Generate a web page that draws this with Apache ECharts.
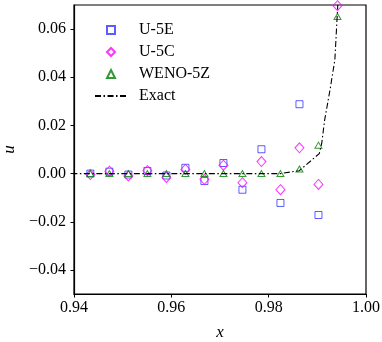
<!DOCTYPE html>
<html>
<head>
<meta charset="utf-8">
<script src="https://cdn.jsdelivr.net/npm/echarts@6/dist/echarts.min.js"></script>
<style>
  html, body { margin: 0; padding: 0; background: #fff; }
  #chart { width: 382px; height: 342px; }
</style>
</head>
<body>
<div id="chart"></div>
<script>
// cell centres (x) where the schemes are sampled
var xCells = [0.943359, 0.947266, 0.951172, 0.955078, 0.958984, 0.962891, 0.966797,
              0.970703, 0.974609, 0.978516, 0.982422, 0.986328, 0.990234, 0.994141];
var u5e  = [0.0000, 0.0008, -0.0004, 0.0011, -0.0008, 0.0024, -0.0031,
            0.0044, -0.0067, 0.0101, -0.0122, 0.0288, -0.0172, null];
var u5c  = [-0.0004, 0.0010, -0.0010, 0.0012, -0.0016, 0.0017, -0.0024,
            0.0035, -0.0038, 0.0050, -0.0067, 0.0107, -0.0045, 0.0697];
var weno = [0.0000, 0.0000, 0.0000, 0.0000, 0.0000, 0.0000, 0.0000,
            0.0000, 0.0000, 0.0000, 0.0000, 0.0019, 0.0118, 0.0652];

// exact solution
var xExact = [0.939453, 0.9824, 0.9863, 0.9904, 0.9909, 0.9915, 0.9926, 0.9936, 0.9942];
var uExact = [0.0000, 0.0000, 0.0012, 0.0083, 0.0125, 0.0222, 0.0347, 0.0472, 0.0700];

var xTicks = [0.94, 0.96, 0.98, 1.00];
var yTicks = [-0.04, -0.02, 0.00, 0.02, 0.04, 0.06];

var FONT = 'Liberation Serif';

function pairs(xs, ys) {
  var out = [];
  for (var i = 0; i < xs.length; i++) {
    if (ys[i] !== null) out.push([xs[i], ys[i]]);
  }
  return out;
}

function fmt(v) {
  var s = Math.abs(v).toFixed(2);
  return v < -1e-9 ? '\u2212' + s : s;
}

function hollow(col) {
  return { color: 'rgba(0,0,0,0)', borderColor: col, borderWidth: 1 };
}

var axisCommon = {
  axisLine: { show: true, onZero: false, lineStyle: { color: '#000', width: 1.2 } },
  axisTick: { show: true, inside: false, length: 3.5, lineStyle: { color: '#000', width: 1 } },
  splitLine: { show: false },
  axisLabel: { color: '#000', fontFamily: FONT, fontSize: 16 }
};

var chart = echarts.init(document.getElementById('chart'));

var option = {
  animation: false,
  backgroundColor: '#fff',
  grid: {
    left: 74, right: 16, top: 5, bottom: 48,
    containLabel: false, outerBoundsMode: 'none',
    show: true, borderColor: '#000', borderWidth: 1.2, backgroundColor: 'transparent'
  },
  legend: [
    {
      data: ['U-5E', 'U-5C', 'WENO-5Z'],
      orient: 'vertical',
      left: 101, top: 17,
      itemWidth: 8, itemHeight: 8, itemGap: 6,
      textStyle: { fontFamily: FONT, fontSize: 16, color: '#000', lineHeight: 16, padding: [0, 0, 0, 19] }
    },
    {
      data: [{ name: 'Exact', itemStyle: { opacity: 0 } }],
      left: 89, top: 83,
      itemWidth: 32, itemHeight: 14,
      textStyle: { fontFamily: FONT, fontSize: 16, color: '#000', lineHeight: 16, padding: [0, 0, 0, 7] }
    }
  ],
  xAxis: echarts.util.merge({
    type: 'value', min: 0.94, max: 1.0,
    name: 'x', nameLocation: 'middle', nameGap: 30,
    nameTextStyle: { fontFamily: FONT, fontSize: 17, fontStyle: 'italic', color: '#000' },
    axisTick: { customValues: xTicks },
    axisLabel: { customValues: xTicks, margin: 6, formatter: fmt }
  }, axisCommon),
  yAxis: echarts.util.merge({
    type: 'value', min: -0.05, max: 0.07,
    name: 'u', nameLocation: 'middle', nameGap: 54, nameRotate: 90,
    nameTextStyle: { fontFamily: FONT, fontSize: 17, fontStyle: 'italic', color: '#000' },
    axisTick: { customValues: yTicks },
    axisLabel: { customValues: yTicks, margin: 8, formatter: fmt }
  }, axisCommon),
  series: [
    {
      name: 'U-5E', type: 'scatter', symbol: 'rect', symbolSize: 7,
      itemStyle: hollow('rgba(0,0,255,0.8)'),
      emphasis: { disabled: true },
      data: pairs(xCells, u5e)
    },
    {
      name: 'U-5C', type: 'scatter', symbol: 'diamond', symbolSize: [9, 10],
      itemStyle: hollow('#ff00ff'),
      emphasis: { disabled: true },
      data: pairs(xCells, u5c)
    },
    {
      name: 'WENO-5Z', type: 'scatter', symbol: 'triangle', symbolSize: [7, 6],
      itemStyle: hollow('#008000'),
      emphasis: { disabled: true },
      data: pairs(xCells, weno)
    },
    {
      name: 'Exact', type: 'line', showSymbol: false, symbol: 'none',
      clip: true,
      lineStyle: { color: '#000', width: 1.1, type: [6, 2.5, 1.5, 2.5] },
      itemStyle: { color: '#000' },
      emphasis: { disabled: true },
      data: pairs(xExact, uExact)
    }
  ]
};

chart.setOption(option);
</script>
</body>
</html>
